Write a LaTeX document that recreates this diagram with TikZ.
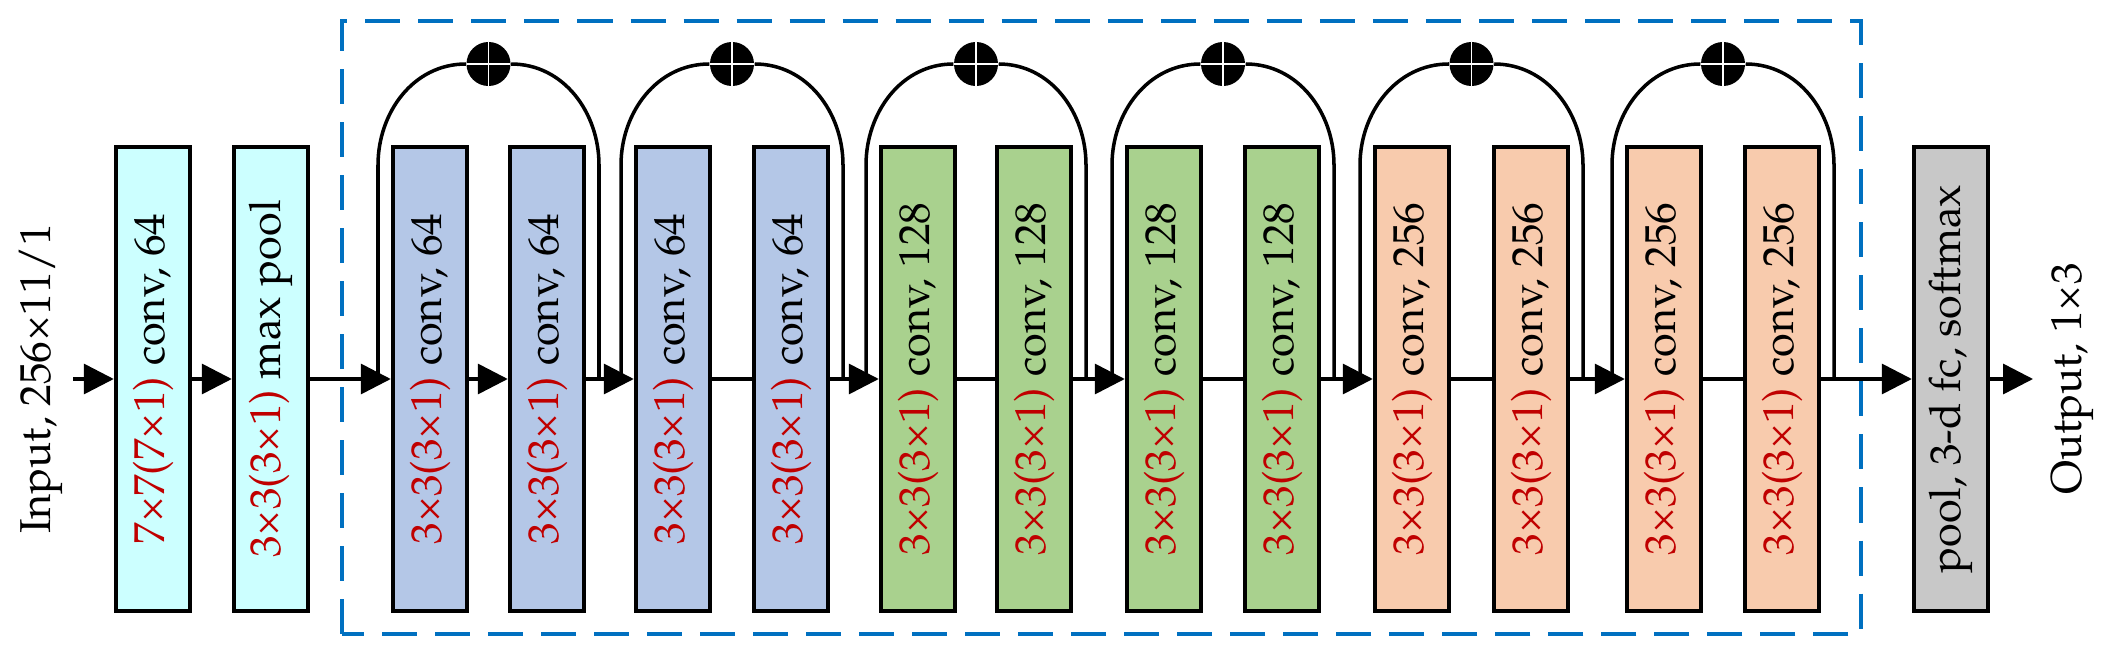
\documentclass[tikz,border=0pt]{standalone}
\usepackage[T1]{fontenc}
\usepackage{mathpazo}
\usepackage{tikz}
\usetikzlibrary{positioning,calc,arrows.meta}
\definecolor{stemcol}{HTML}{CCFFFF}
\definecolor{col64}{HTML}{B4C7E7}
\definecolor{col128}{HTML}{A9D18E}
\definecolor{col256}{HTML}{F8CBAD}
\definecolor{headcol}{HTML}{C8C8C8}
\definecolor{kred}{HTML}{C00000}
\definecolor{dashblue}{HTML}{0070C0}
\tikzset{>={Triangle[length=3mm,width=3mm]}}
\tikzset{layer/.style={draw,line width=1.25pt,rotate=90,minimum width=4.64cm,minimum height=0.74cm,inner sep=0pt},
  link/.style={line width=1pt},
  add/.style={circle,fill=black,minimum size=0.44cm,inner sep=0pt,
    path picture={\draw[white,line width=0.45pt] (path picture bounding box.north) -- (path picture bounding box.south)
      (path picture bounding box.west) -- (path picture bounding box.east);}}}
\newcommand{\ks}[1]{\textcolor{kred}{#1}}

\begin{document}
\begin{tikzpicture}[x=0.01cm,y=0.01cm,font=\fontsize{12.3}{14}\selectfont]
\useasboundingbox (0,0) rectangle (2109,654);
\draw[dashblue,line width=1.2pt,dash pattern=on 0.35cm off 0.18cm] (342,20) rectangle (1861,633);
\node[rotate=90,inner sep=0pt] (input) at (41,275) {Input, 256\texttimes11/1};
\coordinate (instart) at (73,275);
\node[layer,fill=stemcol] (b1) at (153,275) {\ks{7\texttimes7(7\texttimes1)} conv, 64};
\node[layer,fill=stemcol] (b2) at (271,275) {\ks{3\texttimes3(3\texttimes1)} max pool};
\node[layer,fill=col64] (b3) at (430,275) {\ks{3\texttimes3(3\texttimes1)} conv, 64};
\node[layer,fill=col64] (b4) at (547,275) {\ks{3\texttimes3(3\texttimes1)} conv, 64};
\node[layer,fill=col64] (b5) at (673,275) {\ks{3\texttimes3(3\texttimes1)} conv, 64};
\node[layer,fill=col64] (b6) at (791,275) {\ks{3\texttimes3(3\texttimes1)} conv, 64};
\node[layer,fill=col128] (b7) at (918,275) {\ks{3\texttimes3(3\texttimes1)} conv, 128};
\node[layer,fill=col128] (b8) at (1034,275) {\ks{3\texttimes3(3\texttimes1)} conv, 128};
\node[layer,fill=col128] (b9) at (1164,275) {\ks{3\texttimes3(3\texttimes1)} conv, 128};
\node[layer,fill=col128] (b10) at (1282,275) {\ks{3\texttimes3(3\texttimes1)} conv, 128};
\node[layer,fill=col256] (b11) at (1412,275) {\ks{3\texttimes3(3\texttimes1)} conv, 256};
\node[layer,fill=col256] (b12) at (1531,275) {\ks{3\texttimes3(3\texttimes1)} conv, 256};
\node[layer,fill=col256] (b13) at (1664,275) {\ks{3\texttimes3(3\texttimes1)} conv, 256};
\node[layer,fill=col256] (b14) at (1782,275) {\ks{3\texttimes3(3\texttimes1)} conv, 256};
\node[layer,fill=headcol] (b15) at (1951,275) {pool, 3-d fc, softmax};
\coordinate (outend) at (2033,275);
\node[rotate=90,inner sep=0pt] (output) at (2073,275) {Output, 1\texttimes3};
% main line
\draw[link,->] (instart) -- (b1);
\draw[link,->] (b1) -- (b2);
\draw[link,->] (b2) -- (b3);
\draw[link,->] (b3) -- (b4);
\draw[link,->] (b4) -- (b5);
\draw[link] (b5) -- (b6);
\draw[link,->] (b6) -- (b7);
\draw[link] (b7) -- (b8);
\draw[link,->] (b8) -- (b9);
\draw[link] (b9) -- (b10);
\draw[link,->] (b10) -- (b11);
\draw[link] (b11) -- (b12);
\draw[link,->] (b12) -- (b13);
\draw[link] (b13) -- (b14);
\draw[link,->] (b14) -- (b15);
\draw[link,->] (b15) -- (outend);
% shortcuts
\coordinate (s1) at ($(b3)+(-52,0)$);
\coordinate (e1) at ($(b4)+(52,0)$);
\node[add] (add1) at ($(s1)!.5!(e1)+(0,315)$) {};
\draw[link] (s1) -- ++(0,214) to[out=90,in=180] (add1.west);
\draw[link] (add1.east) to[out=0,in=90] ($(e1)+(0,214)$) -- (e1);
\coordinate (s2) at ($(b5)+(-52,0)$);
\coordinate (e2) at ($(b6)+(52,0)$);
\node[add] (add2) at ($(s2)!.5!(e2)+(0,315)$) {};
\draw[link] (s2) -- ++(0,214) to[out=90,in=180] (add2.west);
\draw[link] (add2.east) to[out=0,in=90] ($(e2)+(0,214)$) -- (e2);
\coordinate (s3) at ($(b7)+(-52,0)$);
\coordinate (e3) at ($(b8)+(52,0)$);
\node[add] (add3) at ($(s3)!.5!(e3)+(0,315)$) {};
\draw[link] (s3) -- ++(0,214) to[out=90,in=180] (add3.west);
\draw[link] (add3.east) to[out=0,in=90] ($(e3)+(0,214)$) -- (e3);
\coordinate (s4) at ($(b9)+(-52,0)$);
\coordinate (e4) at ($(b10)+(52,0)$);
\node[add] (add4) at ($(s4)!.5!(e4)+(0,315)$) {};
\draw[link] (s4) -- ++(0,214) to[out=90,in=180] (add4.west);
\draw[link] (add4.east) to[out=0,in=90] ($(e4)+(0,214)$) -- (e4);
\coordinate (s5) at ($(b11)+(-52,0)$);
\coordinate (e5) at ($(b12)+(52,0)$);
\node[add] (add5) at ($(s5)!.5!(e5)+(0,315)$) {};
\draw[link] (s5) -- ++(0,214) to[out=90,in=180] (add5.west);
\draw[link] (add5.east) to[out=0,in=90] ($(e5)+(0,214)$) -- (e5);
\coordinate (s6) at ($(b13)+(-52,0)$);
\coordinate (e6) at ($(b14)+(52,0)$);
\node[add] (add6) at ($(s6)!.5!(e6)+(0,315)$) {};
\draw[link] (s6) -- ++(0,214) to[out=90,in=180] (add6.west);
\draw[link] (add6.east) to[out=0,in=90] ($(e6)+(0,214)$) -- (e6);
\end{tikzpicture}
\end{document}
